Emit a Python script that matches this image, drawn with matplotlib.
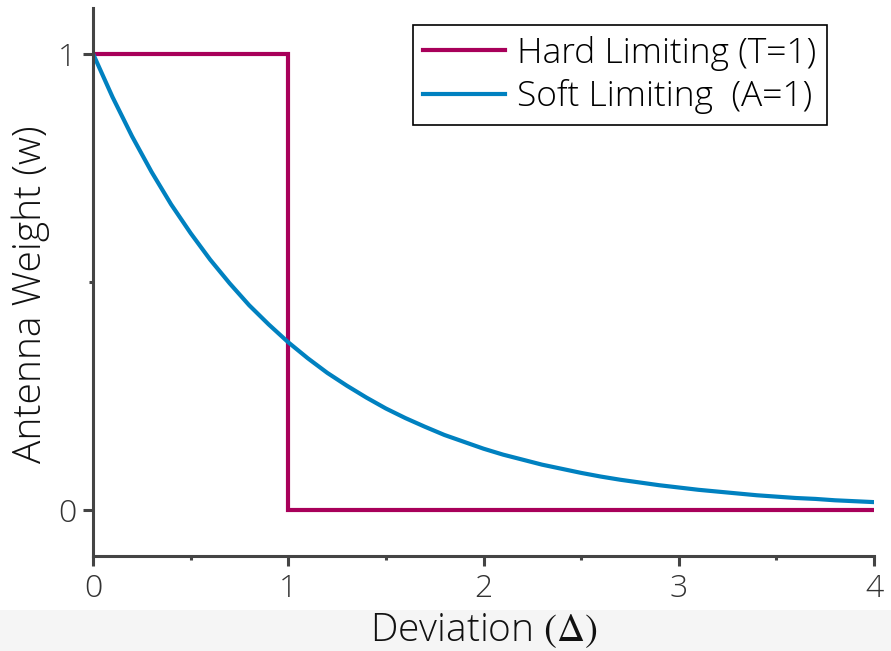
import numpy as np
import matplotlib
matplotlib.use('Agg')
import matplotlib.pyplot as plt
from matplotlib.patches import Rectangle

plt.rcParams['font.family'] = ['Open Sans', 'DejaVu Sans']
plt.rcParams['font.weight'] = 'light'
plt.rcParams['axes.labelweight'] = 'light'
plt.rcParams['mathtext.fontset'] = 'stix'

# Hard limiting (T=1): step down at deviation 1
hard_x = [0, 1, 1, 4]
hard_w = [1, 1, 0, 0]

# Soft limiting (A=1): values every 0.1
soft_x = [0.0, 0.1, 0.2, 0.3, 0.4, 0.5, 0.6, 0.7, 0.8, 0.9,
          1.0, 1.1, 1.2, 1.3, 1.4, 1.5, 1.6, 1.7, 1.8, 1.9,
          2.0, 2.1, 2.2, 2.3, 2.4, 2.5, 2.6, 2.7, 2.8, 2.9,
          3.0, 3.1, 3.2, 3.3, 3.4, 3.5, 3.6, 3.7, 3.8, 3.9, 4.0]
soft_w = [1.000, 0.905, 0.819, 0.741, 0.670, 0.607, 0.549, 0.497, 0.449, 0.407,
          0.368, 0.333, 0.301, 0.273, 0.247, 0.223, 0.202, 0.183, 0.165, 0.150,
          0.135, 0.122, 0.111, 0.100, 0.091, 0.082, 0.074, 0.067, 0.061, 0.055,
          0.050, 0.045, 0.041, 0.037, 0.033, 0.030, 0.027, 0.025, 0.022, 0.020, 0.018]

x_ticks = [0, 1, 2, 3, 4]
y_ticks = [0, 1]

fig = plt.figure(figsize=(8.91, 6.51), dpi=100)
# light grey band along the bottom
band = Rectangle((0, 0), 1, 41 / 651, transform=fig.transFigure,
                 facecolor='#f5f5f5', edgecolor='none', zorder=-5)
fig.add_artist(band)

ax = fig.add_axes([93 / 891, 1 - 556 / 651, 781 / 891, 548 / 651])
ax.set_zorder(2)
ax.patch.set_alpha(0)

ax.plot(hard_x, hard_w, color='#a8005a', lw=3.0, label='Hard Limiting (T=1)',
        solid_joinstyle='miter')
ax.plot(soft_x, soft_w, color='#0081c0', lw=3.0, label='Soft Limiting  (A=1)')

ax.set_xlim(0, 4)
ax.set_ylim(-0.1, 1.1)
ax.set_xticks(x_ticks)
ax.set_yticks(y_ticks)
ax.set_xticks([0.5, 1.5, 2.5, 3.5], minor=True)
ax.set_yticks([0.5], minor=True)

for s in ['top', 'right']:
    ax.spines[s].set_visible(False)
for s in ['left', 'bottom']:
    ax.spines[s].set_linewidth(2.2)
    ax.spines[s].set_color('#444444')

ax.tick_params(which='major', length=7, width=2.2, color='#444444',
               labelsize=23, labelcolor='#333333', pad=5)
ax.tick_params(which='minor', length=3, width=2.2, color='#444444')

ax.set_xlabel(r'Deviation $(\Delta)$', fontsize=28, color='#111111', labelpad=5)
ax.set_ylabel('Antenna Weight (w)', fontsize=28, color='#111111')
ax.yaxis.set_label_coords(-0.055, 0.478)

leg = ax.legend(loc='upper right', bbox_to_anchor=(0.94, 0.969), fontsize=25.5,
                frameon=True, fancybox=False, edgecolor='black', framealpha=1,
                handlelength=2.3, borderaxespad=0, borderpad=0.3, labelspacing=0.25,
                handletextpad=0.35)
leg.get_frame().set_linewidth(1.2)

fig.savefig('out.png', dpi=100)
